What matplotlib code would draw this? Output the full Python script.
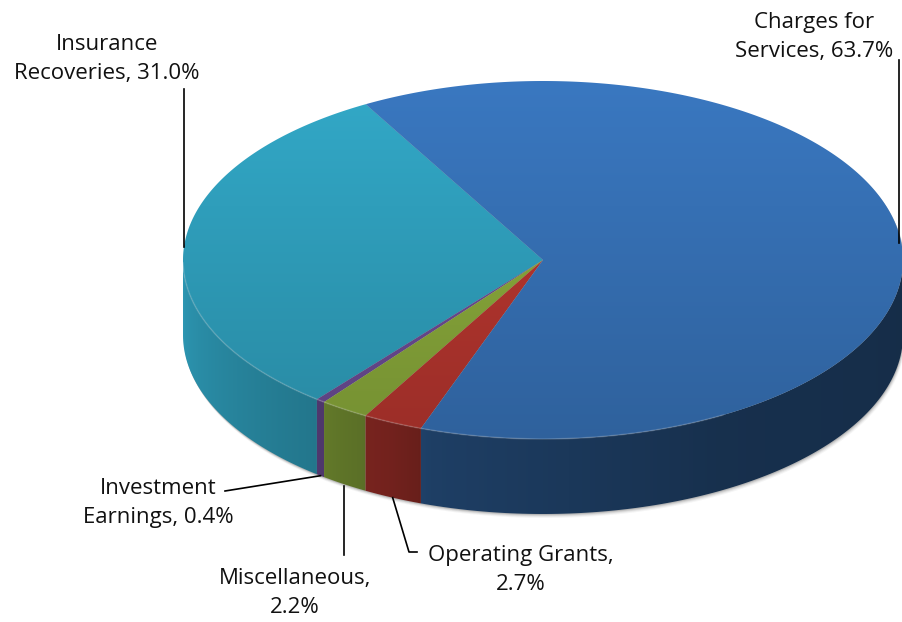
import numpy as np
import matplotlib.pyplot as plt
from matplotlib.patches import Polygon
from matplotlib.colors import to_rgb

# revenue sources, counter-clockwise from the top-left boundary
categories = ['Insurance\nRecoveries', 'Investment\nEarnings', 'Miscellaneous',
              'Operating Grants', 'Charges for\nServices']
shares = [31.0, 0.4, 2.2, 2.7, 63.7]
label_breaks = [' ', ' ', '\n', '\n', ' ']
colors = ['#2f9ebb', '#6a4b93', '#87a63a', '#b3352e', '#3670b4']

# label block centres
label_pos = [(107, 59), (158, 503), (295, 593), (521, 570), (814, 37)]

plt.rcParams['font.family'] = ['Open Sans', 'DejaVu Sans']

CX, CY, RX, RY, DEPTH = 543.0, 260.0, 360.0, 179.0, 75.0
START = 119.5


def rim(theta, dy=0.0):
    t = np.radians(theta)
    return CX + RX * np.cos(t), CY - RY * np.sin(t) + dy


def wall_shade(theta):
    return np.interp(theta, [180, 231, 236, 245, 252, 300, 360],
                     [0.96, 0.75, 0.70, 0.64, 0.56, 0.43, 0.40])


fig = plt.figure(figsize=(9.02, 6.22), dpi=100)
ax = fig.add_axes([0, 0, 1, 1])

edges = START + 360.0 * np.concatenate([[0], np.cumsum(shares)]) / 100.0

# soft shadow under the disc
ts = np.linspace(0, 180, 200)
te = np.linspace(180, 360, 200)
sx = np.concatenate([rim(ts)[0], rim(te)[0]])
sy = np.concatenate([rim(ts)[1], rim(te, DEPTH)[1]])
for off, al in [(4, 0.05), (3, 0.08), (2, 0.12), (1, 0.18)]:
    ax.add_patch(Polygon(np.column_stack([sx + off * 0.5, sy + off]),
                         closed=True, fc='#404040', ec='none', alpha=al, zorder=1))

# side walls, shaded left to right
xs = np.linspace(CX - RX, CX + RX, 600)
theta_x = 360.0 - np.degrees(np.arccos(np.clip((xs - CX) / RX, -1, 1)))
for i, col in enumerate(colors):
    t1, t2 = edges[i], edges[i + 1]
    base = np.array(to_rgb(col))
    for k in (-360, 0, 360):
        lo, hi = max(t1 + k, 180), min(t2 + k, 360)
        if hi <= lo:
            continue
        th = np.linspace(lo, hi, 120)
        px, py = rim(th)
        bx, by = rim(th[::-1], DEPTH)
        poly = Polygon(np.column_stack([np.concatenate([px, bx]),
                                        np.concatenate([py, by])]),
                       closed=True, fc='none', ec='none')
        ax.add_patch(poly)
        img = np.clip(base[None, None, :] * wall_shade(theta_x)[None, :, None], 0, 1)
        img = np.repeat(img, 2, axis=0)
        im = ax.imshow(img, extent=(CX - RX, CX + RX, CY + RY + DEPTH + 2, CY - 2),
                       origin='upper', aspect='auto', interpolation='bilinear', zorder=2)
        im.set_clip_path(poly)

# top face with a soft vertical gradient
ys = np.linspace(CY - RY, CY + RY, 300)
top_shade = np.interp(ys, [CY - RY, CY + RY], [1.07, 0.87])
for i, col in enumerate(colors):
    t1, t2 = edges[i], edges[i + 1]
    th = np.linspace(t1, t2, max(int((t2 - t1) * 2), 4))
    px, py = rim(th)
    poly = Polygon(np.column_stack([np.concatenate([[CX], px]),
                                    np.concatenate([[CY], py])]),
                   closed=True, fc='none', ec='none')
    ax.add_patch(poly)
    base = np.array(to_rgb(col))
    img = np.clip(top_shade[:, None, None] * base[None, None, :], 0, 1)
    img = np.repeat(img, 2, axis=1)
    im = ax.imshow(img, extent=(CX - RX, CX + RX, CY + RY, CY - RY),
                   origin='upper', aspect='auto', interpolation='bilinear', zorder=3)
    im.set_clip_path(poly)

# faint light rim along the front edge of the top face
hx, hy = rim(np.linspace(181, 300, 250))
ax.plot(hx, hy, color='white', alpha=0.15, lw=1.2, zorder=4)

# labels and leader lines
mids = (edges[:-1] + edges[1:]) / 2
for i, (cat, pct, brk) in enumerate(zip(categories, shares, label_breaks)):
    tx, ty = label_pos[i]
    ax.text(tx, ty, f'{cat},{brk}{pct:.1f}%', ha='center', va='center',
            fontsize=16, linespacing=1.45, color='#111111', zorder=6)

lw = 1.2
# insurance / charges: vertical leaders to the outer rim
ix, iy = rim(175.8)
ax.plot([ix, ix], [89, iy], color='black', lw=lw, zorder=5)
cx_, cy_ = rim(5.4)
ax.plot([cx_ - 2, cx_ - 2], [60, cy_], color='black', lw=lw, zorder=5)
# small slices: leaders to the base of their wall
ax_, ay_ = rim(mids[1], DEPTH)
ax.plot([225, ax_], [491, ay_], color='black', lw=lw, zorder=5)
mx, my = rim(mids[2], DEPTH)
ax.plot([mx, mx], [my + 2, 555], color='black', lw=lw, zorder=5)
ox, oy = rim(mids[3], DEPTH)
ax.plot([ox, 409, 417], [oy, 552, 552], color='black', lw=lw, zorder=5)

ax.set_xlim(0, 902)
ax.set_ylim(622, 0)
ax.axis('off')
fig.savefig('out.png', dpi=100)
